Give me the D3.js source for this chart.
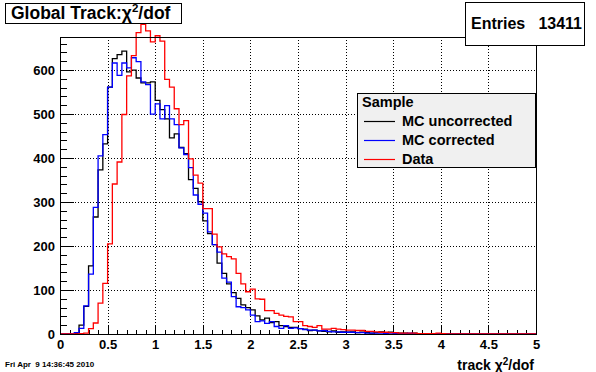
<!DOCTYPE html>
<html><head><meta charset="utf-8">
<script src="https://cdn.jsdelivr.net/npm/d3@7"></script>
<style>
body{margin:0;background:#fff}
svg{display:block}
text{font-family:"Liberation Sans",Arial,Helvetica,sans-serif;font-weight:bold}
</style>
</head><body>
<svg id="c" width="596" height="372"></svg>
<script>
// ---- data (100 bins of width 0.05 from 0 to 5) ----
const xMin = 0, xMax = 5, binWidth = 0.05;
const mcUncorrected = [
  0,0,0,1,20,63,155,266,373,432,
  561,626,635,643,596,600,582,571,571,573,
  531,510,489,446,455,424,410,351,331,301,
  257,228,203,161,138,114,94,81,66,60,
  55,41,32,36,26,28,19,17,15,15,
  12,11,8,9,7,6,5,7,4,5,
  4,5,3,4,3,2,3,5,2,4,
  3,2,2,1,2,1,1,1,0,1,
  0,0,0,0,0,0,0,0,0,0,
  0,0,0,0,0,0,0,0,0,0];
const mcCorrected = [
  0,0,0,3,13,64,136,288,405,453,
  561,616,588,616,605,628,619,573,567,500,
  523,489,519,489,476,423,408,378,316,295,
  275,232,203,186,127,118,85,62,60,55,
  43,28,30,24,28,17,13,19,13,14,
  12,10,9,9,7,8,6,5,5,4,
  4,4,3,3,2,2,2,2,1,2,
  1,1,1,2,1,1,1,1,1,1,
  0,0,0,0,0,0,0,0,0,0,
  0,0,0,0,0,0,0,0,0,0];
const dataValues = [
  0,0,0,0,1,2,12,25,70,115,
  205,341,391,499,587,633,685,704,689,664,
  678,666,579,561,512,476,485,398,361,343,
  285,285,227,198,182,176,171,138,114,96,
  102,80,79,53,53,47,43,40,39,28,
  28,19,17,15,19,11,11,13,11,10,
  9,9,8,8,6,6,5,4,4,3,
  3,2,2,2,2,1,1,1,1,2,
  1,0,0,0,0,0,0,0,0,0,
  0,0,0,0,0,0,0,0,0,0];
const xMajorTicks = [0,0.5,1,1.5,2,2.5,3,3.5,4,4.5,5];
const xTickLabels = ["0","0.5","1","1.5","2","2.5","3","3.5","4","4.5","5"];
const yMajorTicks = [0,100,200,300,400,500,600];
const seriesNames = ["MC uncorrected","MC corrected","Data"];
const seriesColors = ["#000000","#0000ff","#ff0000"];
const entries = 13411;

// ---- layout ----
const svg = d3.select("#c");
const L = 60, R = 536, T = 37, B = 334;
const x = d3.scaleLinear().domain([xMin, xMax]).range([L, R]);
const yMax = d3.max(mcUncorrected) * 1.05;
const y = d3.scaleLinear().domain([0, yMax]).range([B, T]);

// grid
const grid = svg.append("g").attr("stroke","#000").attr("stroke-width",1)
  .attr("stroke-dasharray","1,2").attr("shape-rendering","crispEdges");
xMajorTicks.filter(v => v > xMin && v < xMax).forEach(v => {
  grid.append("line").attr("x1",Math.round(x(v))+0.5).attr("x2",Math.round(x(v))+0.5)
    .attr("y1",T).attr("y2",B);
});
yMajorTicks.filter(v => v > 0).forEach(v => {
  grid.append("line").attr("x1",L).attr("x2",R)
    .attr("y1",Math.round(y(v))+0.5).attr("y2",Math.round(y(v))+0.5);
});

// axes
const fontFam = '"Liberation Sans",Arial,Helvetica,sans-serif';
const xMinor = d3.range(0, 51).map(i => i * 0.1);
const yMinor = d3.range(0, 34).map(i => i * 20).filter(v => v <= yMax);

const gxMinor = svg.append("g").attr("transform",`translate(0,${B})`)
  .call(d3.axisBottom(x).tickValues(xMinor).tickSize(-4.5).tickSizeOuter(0).tickFormat(""));
const gx = svg.append("g").attr("transform",`translate(0,${B})`)
  .call(d3.axisBottom(x).tickValues(xMajorTicks).tickSize(-9).tickSizeOuter(0).tickPadding(6)
    .tickFormat((d,i) => xTickLabels[i]));
const gyMinor = svg.append("g").attr("transform",`translate(${L},0)`)
  .call(d3.axisLeft(y).tickValues(yMinor).tickSize(-7).tickSizeOuter(0).tickFormat(""));
const gy = svg.append("g").attr("transform",`translate(${L},0)`)
  .call(d3.axisLeft(y).tickValues(yMajorTicks).tickSize(-14).tickSizeOuter(0).tickPadding(5)
    .tickFormat(d3.format("d")));
[gxMinor,gx,gyMinor,gy].forEach(g => {
  g.select(".domain").remove();
  g.selectAll("line").attr("stroke","#000").attr("shape-rendering","crispEdges");
  g.selectAll("text").attr("font-family",fontFam).attr("font-weight","bold")
    .attr("font-size","13px").attr("fill","#000");
});

// histograms
function histPoints(vals){
  const pts = [[xMin, 0]];
  vals.forEach((v,i) => pts.push([xMin + i*binWidth, v]));
  pts.push([xMax, vals[vals.length-1]]);
  pts.push([xMax, 0]);
  return pts;
}
const line = d3.line().x(d => x(d[0])).y(d => y(d[1])).curve(d3.curveStepAfter);
[mcUncorrected, mcCorrected, dataValues].forEach((vals,k) => {
  svg.append("path").attr("d", line(histPoints(vals)))
    .attr("fill","none").attr("stroke",seriesColors[k]).attr("stroke-width",1.3);
});

// frame
svg.append("rect").attr("x",L+0.5).attr("y",T+0.5).attr("width",R-L).attr("height",B-T)
  .attr("fill","none").attr("stroke","#000").attr("stroke-width",1).attr("shape-rendering","crispEdges");

// title box
svg.append("rect").attr("x",5.5).attr("y",3.5).attr("width",176).attr("height",20)
  .attr("fill","#fff").attr("stroke","#000").attr("shape-rendering","crispEdges");
const title = svg.append("text").attr("x",11).attr("y",18.5).attr("font-size","17.5px");
title.append("tspan").text("Global Track:χ");
title.append("tspan").attr("dy",-6.5).attr("font-size","11.5px").text("2");
title.append("tspan").attr("dy",6.5).text("/dof");

// stats box
svg.append("rect").attr("x",465.5).attr("y",2.5).attr("width",119).attr("height",43)
  .attr("fill","#fff").attr("stroke","#000").attr("shape-rendering","crispEdges");
svg.append("text").attr("x",471).attr("y",29).attr("font-size","16px").text("Entries");
svg.append("text").attr("x",582).attr("y",29).attr("font-size","16px")
  .attr("text-anchor","end").text(entries);

// legend
const lg = svg.append("g");
lg.append("rect").attr("x",357.5).attr("y",93.5).attr("width",178).attr("height",74)
  .attr("fill","#f0f0f0").attr("stroke","#000").attr("shape-rendering","crispEdges");
lg.append("text").attr("x",362).attr("y",107).attr("font-size","14.5px").text("Sample");
seriesNames.forEach((name,i) => {
  const yy = 121 + i*19;
  lg.append("line").attr("x1",364).attr("x2",395).attr("y1",yy+0.5).attr("y2",yy+0.5)
    .attr("stroke",seriesColors[i]).attr("stroke-width",1.2);
  lg.append("text").attr("x",402).attr("y",yy+5).attr("font-size","14.5px").text(name);
});

// x-axis title
const xt = svg.append("text").attr("x",534).attr("y",370).attr("text-anchor","end").attr("font-size","14px");
xt.append("tspan").text("track χ");
xt.append("tspan").attr("dy",-5).attr("font-size","10px").text("2");
xt.append("tspan").attr("dy",5).text("/dof");

// date stamp
svg.append("text").attr("x",5).attr("y",367).attr("font-size","8px").text("Fri Apr  9 14:36:45 2010")
  .attr("xml:space","preserve").style("white-space","pre");
</script>
</body></html>
